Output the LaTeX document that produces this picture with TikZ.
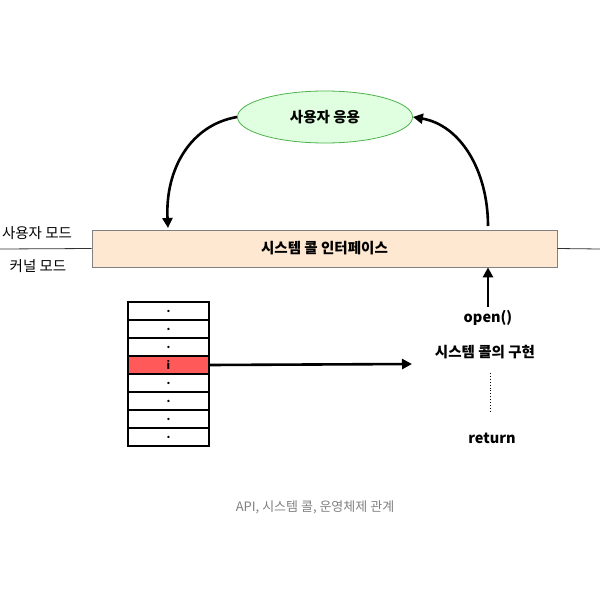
\documentclass[tikz,border=0pt]{standalone}
\usepackage{fontspec}
\setmainfont{Noto Sans CJK KR}
\usetikzlibrary{arrows.meta,shapes.geometric}
\begin{document}
\begin{tikzpicture}[x=1pt,y=-1pt,
  lbl/.style={font=\bfseries\fontsize{14.5}{16}\selectfont},
  arr/.style={-{Triangle[length=10pt,width=10pt]},line width=2.6pt},
  cell/.style={draw,line width=1.3pt,minimum width=81pt,minimum height=18pt,inner sep=0pt,font=\bfseries\fontsize{11}{12}\selectfont}]
\useasboundingbox (0,0) rectangle (600,600);
\node[ellipse,draw=green!40!gray,line width=0.8pt,fill=green!12,minimum width=175pt,minimum height=52pt,lbl] (app) at (325,117) {사용자 응용};
\node[draw=gray,line width=0.8pt,fill=orange!18,minimum width=465pt,minimum height=37pt,inner sep=0pt,lbl] (sci) at (324.5,248.5) {시스템 콜 인터페이스};
\coordinate (l0) at (0,249); \coordinate (r0) at (600,249);
\draw[black!80,line width=0.8pt] (l0) -- (sci.west);
\draw[black!80,line width=0.8pt] (sci.east) -- (r0);
\node[font=\fontsize{14.5}{16}\selectfont] (um) at (37,233) {사용자 모드};
\node[font=\fontsize{14.5}{16}\selectfont] (km) at (38,266) {커널 모드};
\coordinate (la) at (168,228);
\coordinate (rs) at (488,226);
\draw[arr] (app.west) .. controls (190,125) and (165,170) .. (la);
\draw[arr] (rs) .. controls (488,170) and (460,125) .. (app.east);
\node[lbl] (open) at (488,318) {open()};
\draw[arr] (open.north) -- (sci.south -| open.north);
\node[lbl] (impl) at (485,352) {시스템 콜의 구현};
\node[lbl] (ret) at (492,438) {return};
\coordinate (d1) at (490,373); \coordinate (d2) at (490,413);
\draw[dotted,line width=0.9pt] (d1) -- (d2);
\foreach \i/\t in {0/.,1/.,2/.,4/.,5/.,6/.,7/.}
  \node[cell] (c\i) at (168.5,311+18*\i) {\t};
\node[cell,fill=red!65] (c3) at (168.5,365) {i};
\coordinate (ae) at (412,364);
\draw[arr] (c3.east) -- (ae);
\node[text=gray,font=\fontsize{13}{15}\selectfont] (cap) at (315,507) {API, 시스템 콜, 운영체제 관계};
\end{tikzpicture}
\end{document}
